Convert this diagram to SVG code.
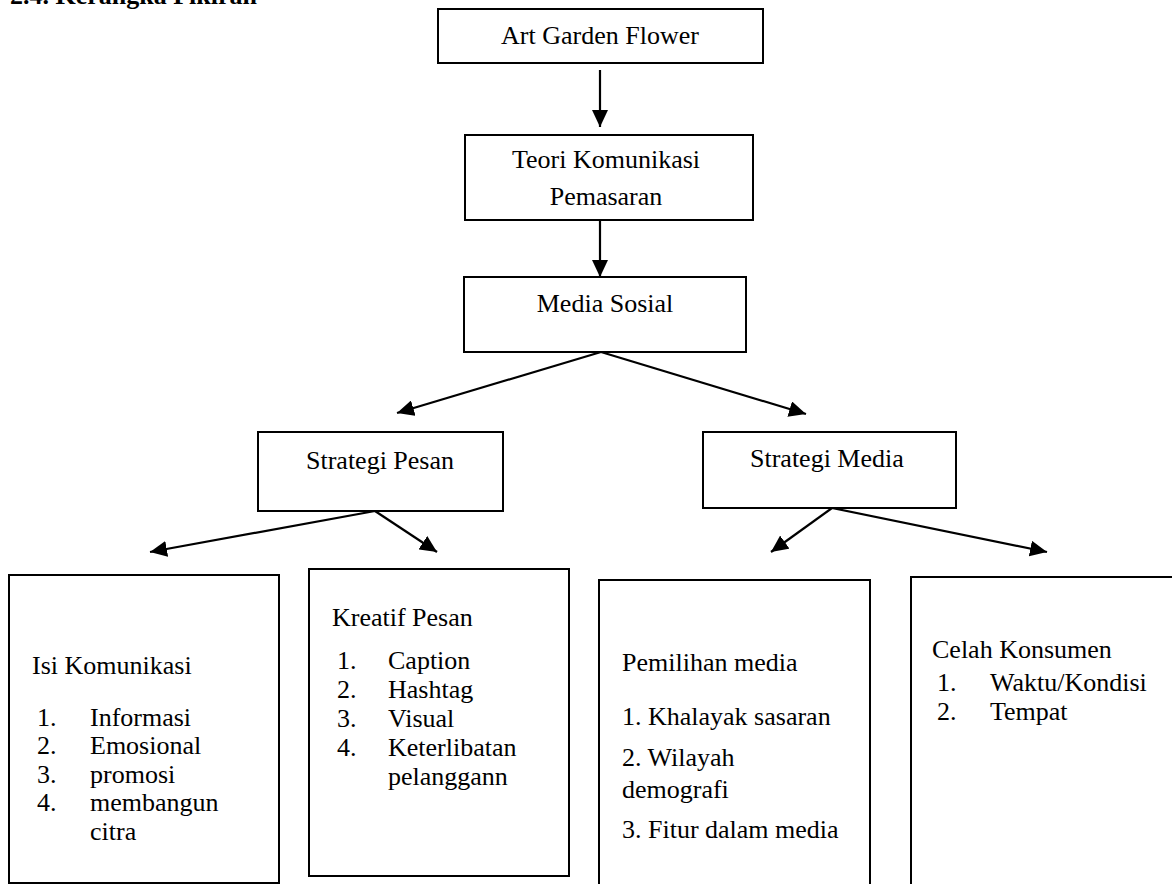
<svg xmlns="http://www.w3.org/2000/svg" width="1172" height="884" viewBox="0 0 1172 884">
  <style>
    .box { fill: #ffffff; stroke: #000000; stroke-width: 2; }
    .t { font-family: "Liberation Serif", "Times New Roman", serif; font-size: 26px; fill: #000000; }
    .c { text-anchor: middle; }
    .h { font-family: "Liberation Serif", "Times New Roman", serif; font-size: 26px; font-weight: bold; fill: #000000; }
    .conn { stroke: #000000; stroke-width: 2.2; fill: none; marker-end: url(#arrow); }
  </style>
  <defs>
    <marker id="arrow" markerUnits="userSpaceOnUse" markerWidth="18" markerHeight="16" refX="17" refY="8" orient="auto">
      <path d="M0,0 L17,8 L0,16 z" fill="#000000"/>
    </marker>
  </defs>
  <rect width="1172" height="884" fill="#ffffff"/>

  <text class="h" x="10" y="4">2.4. Kerangka Pikiran</text>

  <g id="connectors">
    <line class="conn" x1="600" y1="70" x2="600" y2="127"/>
    <line class="conn" x1="600" y1="220" x2="600" y2="277"/>
    <line class="conn" x1="601" y1="352" x2="397" y2="413"/>
    <line class="conn" x1="601" y1="352" x2="806" y2="414"/>
    <line class="conn" x1="375" y1="511" x2="150" y2="552"/>
    <line class="conn" x1="375" y1="511" x2="437" y2="552"/>
    <line class="conn" x1="832" y1="508" x2="771" y2="552"/>
    <line class="conn" x1="832" y1="508" x2="1047" y2="552"/>
  </g>

  <g id="art-garden-flower">
    <rect class="box" x="438" y="9" width="325" height="54"/>
    <text class="t c" x="600" y="44">Art Garden Flower</text>
  </g>

  <g id="teori-komunikasi">
    <rect class="box" x="465" y="135" width="288" height="85"/>
    <text class="t c" x="606" y="168">Teori Komunikasi</text>
    <text class="t c" x="606" y="205">Pemasaran</text>
  </g>

  <g id="media-sosial">
    <rect class="box" x="464" y="277" width="282" height="75"/>
    <text class="t c" x="605" y="312">Media Sosial</text>
  </g>

  <g id="strategi-pesan">
    <rect class="box" x="258" y="432" width="245" height="79"/>
    <text class="t" x="306" y="469">Strategi Pesan</text>
  </g>

  <g id="strategi-media">
    <rect class="box" x="703" y="432" width="253" height="76"/>
    <text class="t" x="750" y="467">Strategi Media</text>
  </g>

  <g id="isi-komunikasi">
    <rect class="box" x="9" y="575" width="270" height="308"/>
    <text class="t" x="32" y="674">Isi Komunikasi</text>
    <text class="t" x="37" y="726">1.</text><text class="t" x="90" y="726">Informasi</text>
    <text class="t" x="37" y="754">2.</text><text class="t" x="90" y="754">Emosional</text>
    <text class="t" x="37" y="783">3.</text><text class="t" x="90" y="783">promosi</text>
    <text class="t" x="37" y="811">4.</text><text class="t" x="90" y="811">membangun</text>
    <text class="t" x="90" y="840">citra</text>
  </g>

  <g id="kreatif-pesan">
    <rect class="box" x="309" y="569" width="260" height="307"/>
    <text class="t" x="332" y="626">Kreatif Pesan</text>
    <text class="t" x="337" y="669">1.</text><text class="t" x="388" y="669">Caption</text>
    <text class="t" x="337" y="698">2.</text><text class="t" x="388" y="698">Hashtag</text>
    <text class="t" x="337" y="727">3.</text><text class="t" x="388" y="727">Visual</text>
    <text class="t" x="337" y="756">4.</text><text class="t" x="388" y="756">Keterlibatan</text>
    <text class="t" x="388" y="785">pelanggann</text>
  </g>

  <g id="pemilihan-media">
    <rect class="box" x="599" y="580" width="271" height="320"/>
    <text class="t" x="622" y="671">Pemilihan media</text>
    <text class="t" x="622" y="725">1. Khalayak sasaran</text>
    <text class="t" x="622" y="766">2. Wilayah</text>
    <text class="t" x="622" y="798">demografi</text>
    <text class="t" x="622" y="838">3. Fitur dalam media</text>
  </g>

  <g id="celah-konsumen">
    <rect class="box" x="911" y="577" width="280" height="330"/>
    <text class="t" x="932" y="658">Celah Konsumen</text>
    <text class="t" x="937" y="691">1.</text><text class="t" x="990" y="691">Waktu/Kondisi</text>
    <text class="t" x="937" y="720">2.</text><text class="t" x="990" y="720">Tempat</text>
  </g>
</svg>
